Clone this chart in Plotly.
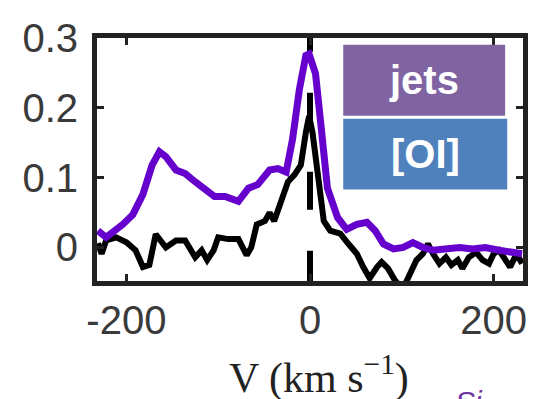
import plotly.graph_objects as go

# Purple ("jets") profile
v_jets = [-231, -222, -204, -193, -182, -172, -164, -157, -146, -136, -125, -114, -104, -92.5, -78, -67, -57,
          -44, -35, -26, -19, -11.6, -4.5, -1, 6, 11.6, 19, 30, 40, 51, 62, 71, 80, 91, 101.5, 112, 123, 134,
          148, 163, 177, 191, 206, 220, 231]
f_jets = [0.024, 0.0145, 0.033, 0.047, 0.076, 0.118, 0.137, 0.130, 0.111, 0.106, 0.094, 0.083, 0.073, 0.073,
          0.066, 0.085, 0.090, 0.111, 0.113, 0.108, 0.155, 0.226, 0.275, 0.277, 0.249, 0.179, 0.085, 0.043,
          0.026, 0.033, 0.036, 0.024, 0.005, -0.002, 0.0, 0.007, 0.0, -0.004, -0.002, 0.0, -0.002, 0.0,
          -0.004, -0.007, -0.009]

# Black ([OI]) profile
v_oi = [-231, -227, -222, -211, -200, -190, -182, -175, -168, -163, -157, -146, -136, -125, -118, -112, -105,
        -100, -89, -78, -69, -64, -58, -49, -44, -39, -33, -24, -17, -10, -4.5, -1, 2.7, 8, 15, 22, 33, 42,
        51, 58, 65, 73, 78, 85, 92, 101, 109, 116, 123, 128.5, 134, 141, 148, 154, 161, 166, 173, 181, 188,
        195, 200, 206, 213, 218, 225, 231]
f_oi = [0.006, -0.009, 0.010, 0.0145, 0.0075, -0.004, -0.028, -0.025, 0.019, 0.010, 0.000, 0.010, 0.010,
        -0.014, -0.004, -0.018, -0.004, 0.0145, 0.012, 0.012, -0.011, 0.000, 0.033, 0.038, 0.050, 0.038,
        0.062, 0.094, 0.104, 0.118, 0.165, 0.188, 0.165, 0.108, 0.038, 0.024, 0.020, 0.005, -0.009, -0.028,
        -0.044, -0.028, -0.021, -0.030, -0.046, -0.060, -0.037, -0.018, -0.009, 0.005, -0.009, -0.023,
        -0.014, -0.025, -0.018, -0.030, -0.014, -0.007, -0.018, -0.023, -0.009, -0.004, -0.018, -0.028,
        -0.009, -0.023]

x_ticks = [-200, 0, 200]
x_tick_labels = ["-200", "0", "200"]
y_ticks = [0, 0.1, 0.2, 0.3]
y_tick_labels = ["0", "0.1", "0.2", "0.3"]
x_range = [-232, 232]
y_range = [-0.048, 0.3]
vline_v = [0, 0]
vline_y = [-0.059, 0.32]

fig = go.Figure()
fig.add_trace(go.Scatter(x=vline_v, y=vline_y, mode="lines",
                         line=dict(color="black", width=6, dash="38px,41px"), hoverinfo="skip"))
fig.add_trace(go.Scatter(x=v_oi, y=f_oi, mode="lines", line=dict(color="black", width=6)))
fig.add_trace(go.Scatter(x=v_jets, y=f_jets, mode="lines", line=dict(color="#6600cc", width=7)))

axis_common = dict(showline=True, linewidth=5, linecolor="#222", mirror="ticks", ticks="inside",
                   ticklen=7, tickwidth=3, tickcolor="#222", showgrid=False, zeroline=False,
                   tickfont=dict(family="Liberation Sans, Arial", size=40, color="#3a3a3a"))
fig.update_xaxes(range=x_range, tickvals=x_ticks, ticktext=x_tick_labels, ticklabelstandoff=0, **axis_common)
fig.update_yaxes(range=y_range, tickvals=y_ticks, ticktext=y_tick_labels, ticklabelstandoff=6, **axis_common)

# legend-like boxes
fig.add_shape(type="rect", xref="paper", yref="paper", x0=0.578, x1=0.958, y0=0.680, y1=0.972,
              fillcolor="#8064A2", line=dict(width=0), layer="above")
fig.add_shape(type="rect", xref="paper", yref="paper", x0=0.578, x1=0.963, y0=0.377, y1=0.668,
              fillcolor="#4F81BD", line=dict(width=0), layer="above")
fig.add_annotation(text="<b>jets</b>", xref="paper", yref="paper", x=0.768, y=0.826, showarrow=False,
                   xanchor="center", yanchor="middle",
                   font=dict(family="Liberation Sans, Arial", size=40, color="white"))
fig.add_annotation(text="<b>[OI]</b>", xref="paper", yref="paper", x=0.770, y=0.522, showarrow=False,
                   xanchor="center", yanchor="middle",
                   font=dict(family="Liberation Sans, Arial", size=40, color="white"))

# axis title
fig.add_annotation(text="V (km s<sup>−1</sup>)", xref="paper", yref="paper", x=0.52, y=-0.385,
                   xanchor="center", yanchor="middle", showarrow=False,
                   font=dict(family="Liberation Serif, Times New Roman", size=42, color="#222"))
# cut-off purple text at bottom right
fig.add_annotation(text="<i>Si</i>", xref="paper", yref="paper", x=0.835, y=-0.42, xanchor="left",
                   yanchor="top", showarrow=False,
                   font=dict(family="Liberation Sans, Arial", size=30, color="#7030A0"))

# the page adds an 8px body margin, so the figure is 8px smaller
fig.update_layout(width=528, height=391, margin=dict(l=89, r=8, t=26, b=118),
                  paper_bgcolor="white", plot_bgcolor="white", showlegend=False)
fig.write_html("out.html")
